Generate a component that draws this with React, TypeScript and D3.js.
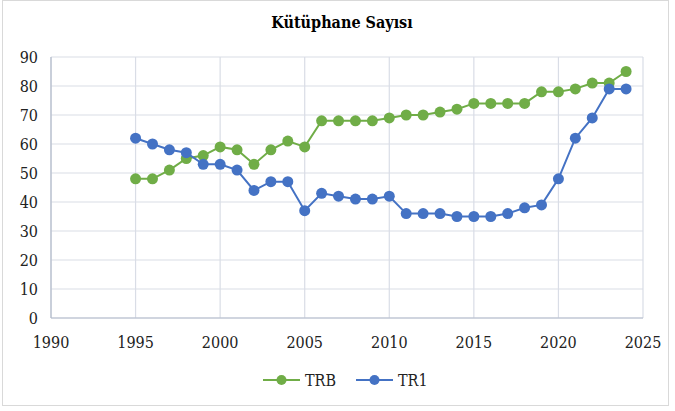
import React, { useEffect, useRef } from 'react';
import * as d3 from 'd3';

const years = d3.range(1995, 2025);
const trb = [48, 48, 51, 55, 56, 59, 58, 53, 58, 61, 59, 68, 68, 68, 68, 69, 70, 70, 71, 72, 74, 74, 74, 74, 78, 78, 79, 81, 81, 85];
const tr1 = [62, 60, 58, 57, 53, 53, 51, 44, 47, 47, 37, 43, 42, 41, 41, 42, 36, 36, 36, 35, 35, 35, 36, 38, 39, 48, 62, 69, 79, 79];
const xTicks = [1990, 1995, 2000, 2005, 2010, 2015, 2020, 2025];
const yTicks = [0, 10, 20, 30, 40, 50, 60, 70, 80, 90];

const series = [
  { name: 'TRB', values: trb, color: '#70ad47' },
  { name: 'TR1', values: tr1, color: '#4472c4' },
];

const App: React.FC = () => {
  const svgRef = useRef<SVGSVGElement>(null);
  const width = 675;
  const height = 411;

  useEffect(() => {
    if (!svgRef.current) return;
    const svg = d3.select(svgRef.current);
    svg.selectAll('*').remove();

    const font = '"DejaVu Serif Condensed", "DejaVu Serif", serif';
    const x = d3.scaleLinear().domain([1990, 2025]).range([51, 643]);
    const y = d3.scaleLinear().domain([0, 90]).range([318, 57]);

    // outer frame
    svg.append('rect')
      .attr('x', 2.5).attr('y', 0.5)
      .attr('width', 666).attr('height', 405)
      .attr('fill', 'white').attr('stroke', '#d9d9d9');

    svg.append('text')
      .attr('x', 342).attr('y', 28)
      .attr('text-anchor', 'middle')
      .style('font-family', font).style('font-stretch', 'condensed')
      .style('font-size', '16px').style('font-weight', 'bold')
      .text('Kütüphane Sayısı');

    // grid
    const grid = svg.append('g').attr('stroke', '#d9dde6').attr('stroke-width', 1.2);
    yTicks.forEach(t => {
      grid.append('line').attr('x1', x(1990)).attr('x2', x(2025)).attr('y1', y(t)).attr('y2', y(t));
    });
    xTicks.forEach(t => {
      grid.append('line').attr('x1', x(t)).attr('x2', x(t)).attr('y1', y(0)).attr('y2', y(90));
    });
    // axes
    svg.append('line').attr('x1', x(1990)).attr('x2', x(1990)).attr('y1', y(0)).attr('y2', y(90))
      .attr('stroke', '#b4bccb').attr('stroke-width', 1.2);
    svg.append('line').attr('x1', x(1990)).attr('x2', x(2025)).attr('y1', y(0)).attr('y2', y(0))
      .attr('stroke', '#b4bccb').attr('stroke-width', 1.2);

    const tickStyle = (sel: any) => sel
      .style('font-family', font).style('font-stretch', 'condensed')
      .style('font-size', '16px').attr('fill', '#222');

    svg.append('g').selectAll('text').data(yTicks).enter().append('text')
      .attr('x', 38).attr('y', d => y(d)).attr('dy', '0.35em')
      .attr('text-anchor', 'end')
      .call(tickStyle)
      .text(d => d);

    svg.append('g').selectAll('text').data(xTicks).enter().append('text')
      .attr('x', d => x(d)).attr('y', 348)
      .attr('text-anchor', 'middle')
      .call(tickStyle)
      .text(d => d);

    const line = d3.line<number>().x((_, i) => x(years[i])).y(d => y(d));

    series.forEach(s => {
      svg.append('path').datum(s.values)
        .attr('d', line).attr('fill', 'none')
        .attr('stroke', s.color).attr('stroke-width', 2);
      svg.append('g').selectAll('circle').data(s.values).enter().append('circle')
        .attr('cx', (_, i) => x(years[i])).attr('cy', d => y(d))
        .attr('r', 5.5).attr('fill', s.color);
    });

    // legend
    const legendX = [263, 356];
    series.forEach((s, i) => {
      const g = svg.append('g').attr('transform', `translate(${legendX[i]},380)`);
      g.append('line').attr('x1', 0).attr('x2', 37).attr('y1', 0).attr('y2', 0)
        .attr('stroke', s.color).attr('stroke-width', 2);
      g.append('circle').attr('cx', 18.5).attr('cy', 0).attr('r', 5).attr('fill', s.color);
      g.append('text').attr('x', 42).attr('y', 0).attr('dy', '0.35em')
        .call(tickStyle)
        .text(s.name);
    });
  }, []);

  return <svg ref={svgRef} width={width} height={height} style={{ position: 'absolute', left: 0, top: 0 }} />;
};

export default App;
